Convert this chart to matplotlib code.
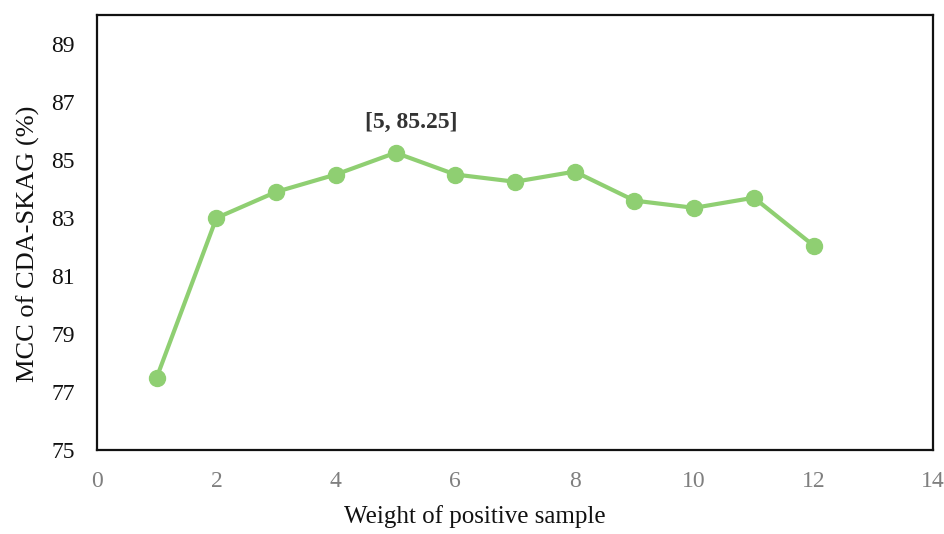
import matplotlib
matplotlib.use("Agg")
import matplotlib.pyplot as plt

weights = [1, 2, 3, 4, 5, 6, 7, 8, 9, 10, 11, 12]
mcc = [77.5, 83.0, 83.9, 84.5, 85.25, 84.5, 84.25, 84.6, 83.6, 83.35, 83.7, 82.05]
x_ticks = [0, 2, 4, 6, 8, 10, 12, 14]
y_ticks = [75, 77, 79, 81, 83, 85, 87, 89]

plt.rcParams["font.family"] = ["Liberation Serif", "DejaVu Serif"]

fig = plt.figure(figsize=(9.44, 5.34), dpi=100)
ax = fig.add_axes([97 / 944, 1 - 450 / 534, (933 - 97) / 944, (450 - 15) / 534])

green = "#8fcf72"
ax.plot(weights, mcc, "-o", color=green, linewidth=3, markersize=11.5, zorder=3)

best = mcc.index(max(mcc))
ax.annotate(f"[{weights[best]}, {mcc[best]:.2f}]",
            xy=(weights[best], mcc[best]), xytext=(11, 22), textcoords="offset points",
            ha="center", va="center", fontsize=17, fontweight="bold", color="#333333")

ax.set_xlim(0, 14)
ax.set_ylim(75, 90)
ax.set_xticks(x_ticks)
ax.set_yticks(y_ticks)
ax.tick_params(axis="x", length=0, pad=15, labelsize=17, labelcolor="#7f7f7f")
ax.tick_params(axis="y", length=0, pad=16, labelsize=17, labelcolor="#111111")

for sp in ax.spines.values():
    sp.set_linewidth(1.6)
    sp.set_color("#111111")

ax.set_xlabel("Weight of positive sample", fontsize=18, color="#111111", va="center")
ax.set_ylabel("MCC of CDA-SKAG (%)", fontsize=19, color="#111111", va="center")
ax.xaxis.set_label_coords(0.452, -0.154)
ax.yaxis.set_label_coords(-0.082, 0.474)

fig.savefig("out.png", dpi=100, facecolor="white")
plt.close(fig)
